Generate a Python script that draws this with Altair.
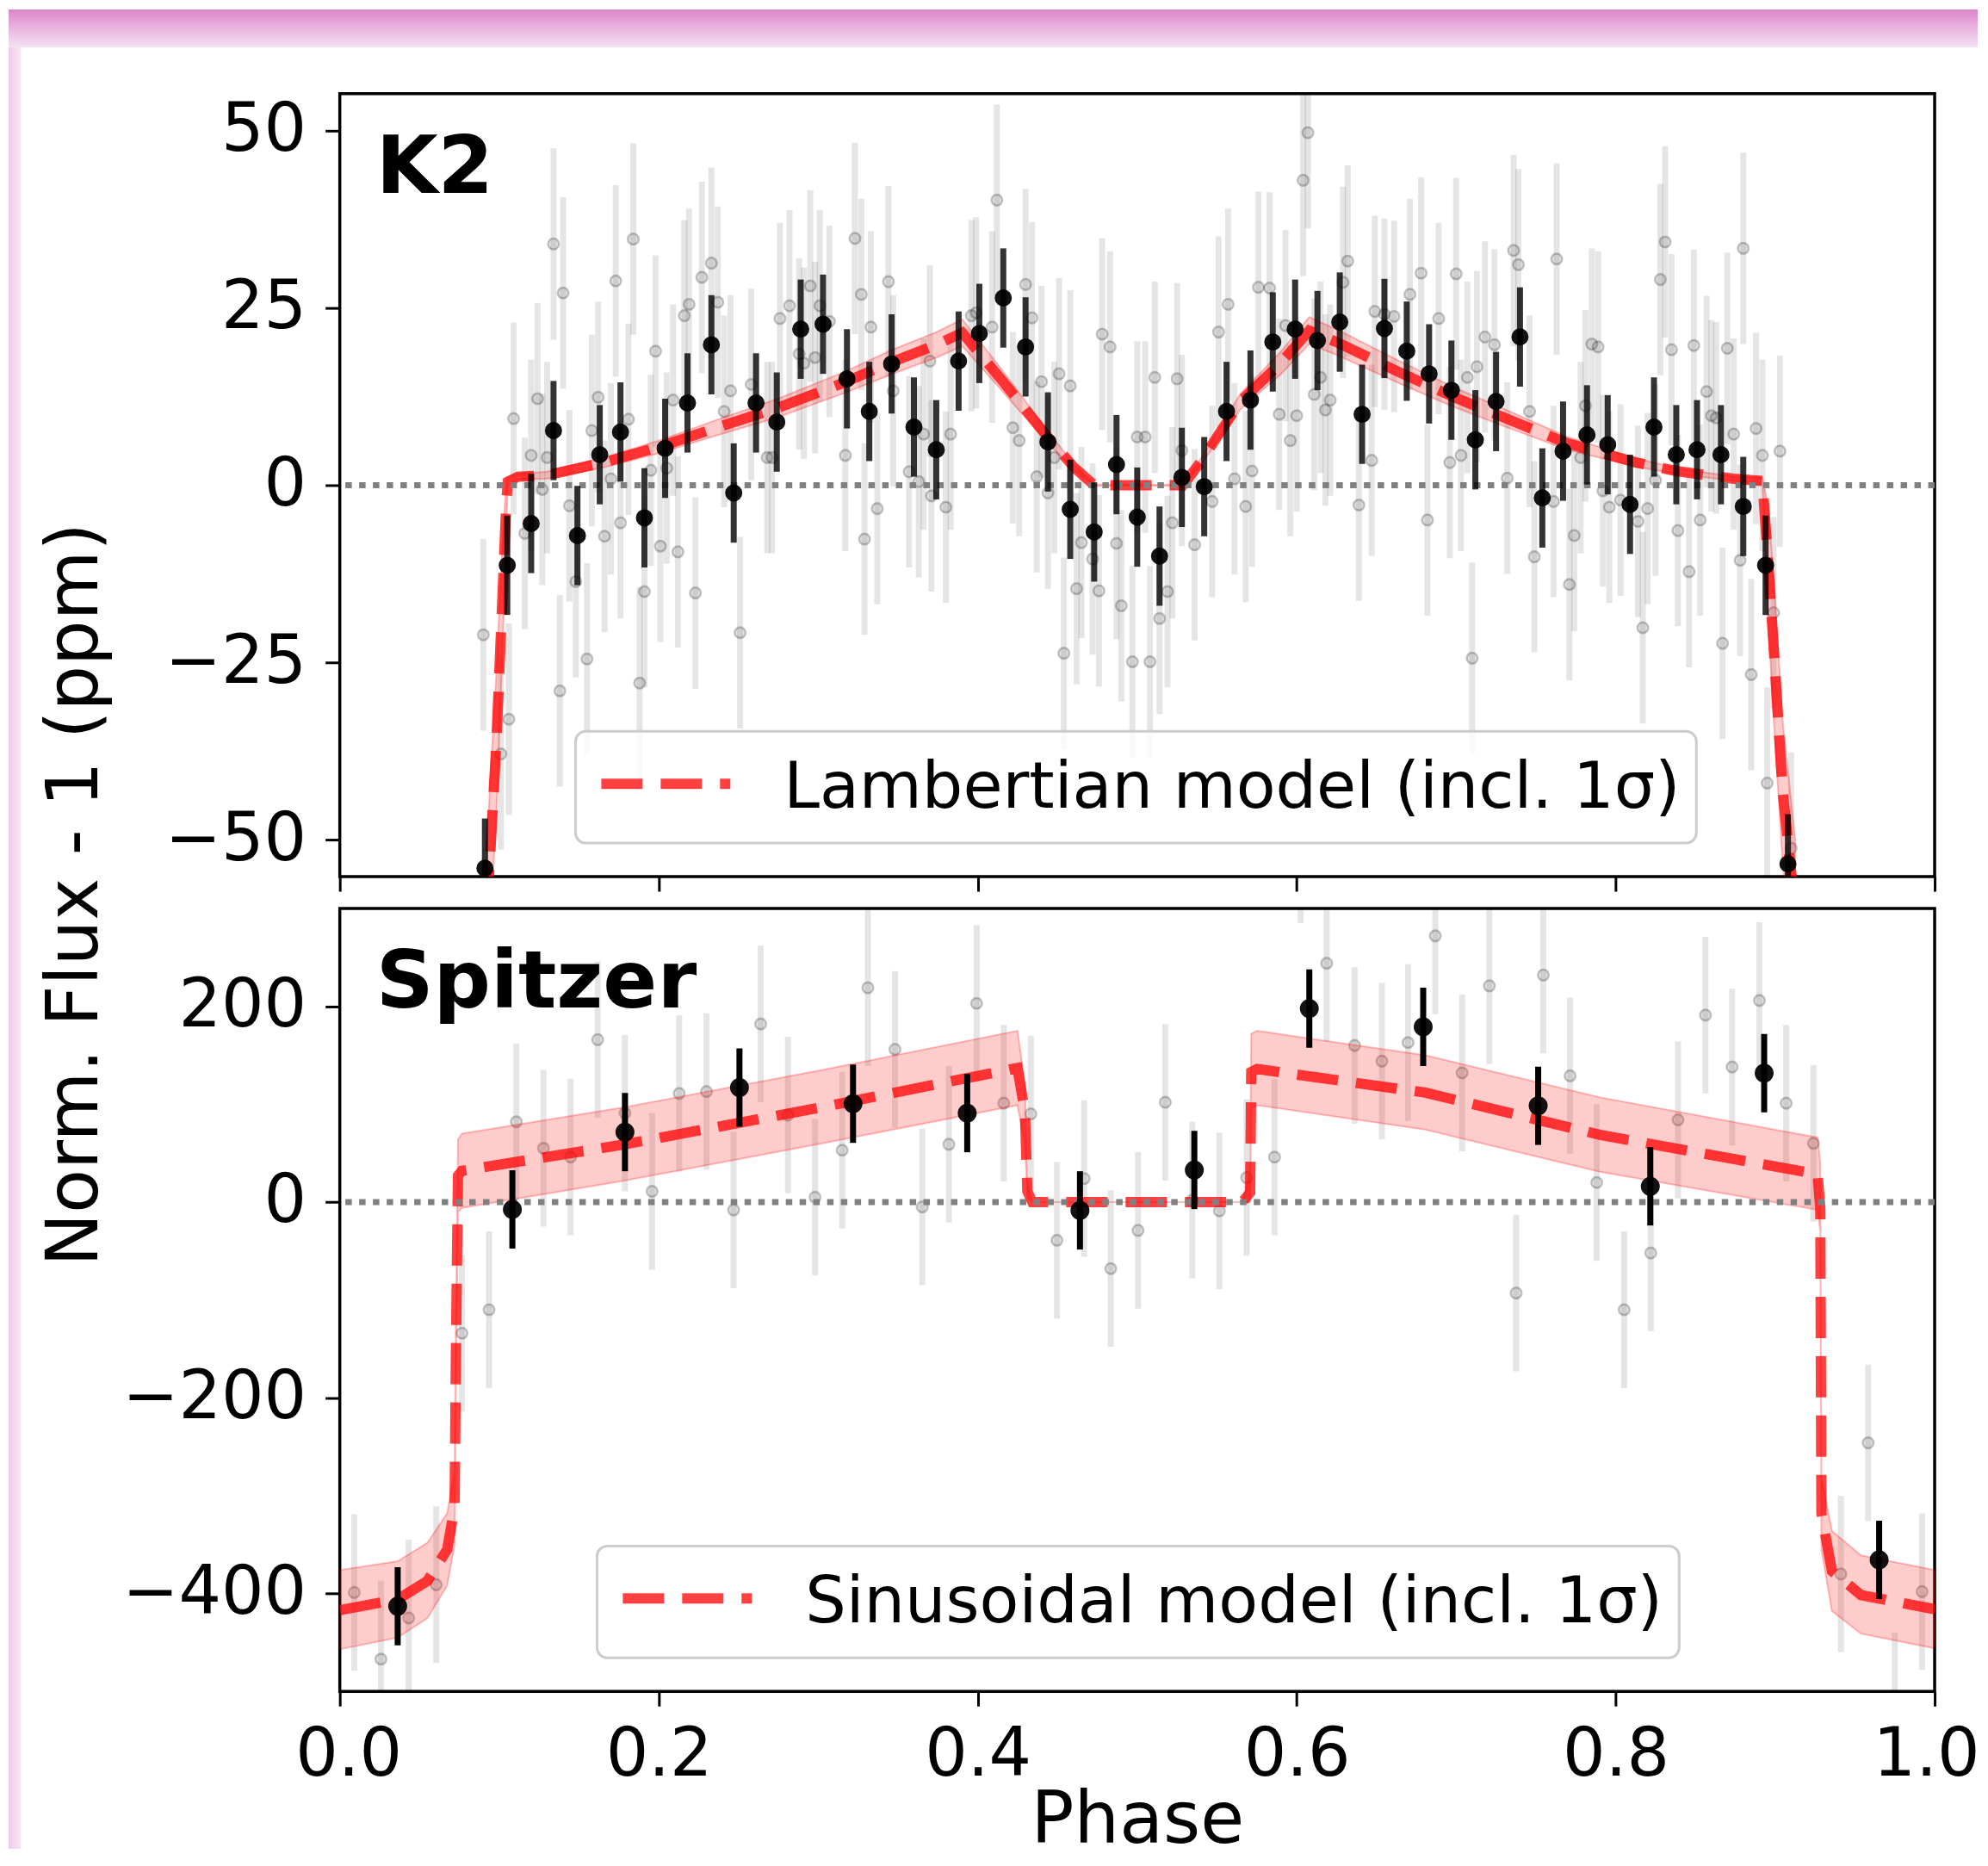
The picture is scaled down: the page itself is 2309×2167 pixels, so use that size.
import altair as alt
import pandas as pd

FONT = "DejaVu Sans"
W, H = 1854, 910
GAP = 37

# ---------------- text ----------------
PANEL_LABELS = ["K2", "Spitzer"]
LEGEND_LABELS = ["Lambertian model (incl. 1σ)", "Sinusoidal model (incl. 1σ)"]
Y_TITLE = ["Norm. Flux - 1 (ppm)"]
X_TITLE = "Phase"

PHASE_TICKS = [0.0, 0.2, 0.4, 0.6, 0.8, 1.0]
K2_TICKS = [-50, -25, 0, 25, 50]
SP_TICKS = [-400, -200, 0, 200]
K2_DOMAIN = [-55.2, 55.2]
SP_DOMAIN = [-500, 300]

# ---------------- K2 unbinned ----------------
K2_RAW_PHASE = [
    0.090, 0.101, 0.106, 0.109, 0.116, 0.120, 0.124, 0.127, 0.130, 0.134, 0.138, 0.140, 0.144, 0.148,
    0.155, 0.158, 0.162, 0.166, 0.170, 0.173, 0.176, 0.181, 0.184, 0.188, 0.191, 0.195, 0.198, 0.201,
    0.205, 0.209, 0.212, 0.216, 0.219, 0.223, 0.227, 0.233, 0.237, 0.241, 0.245, 0.251, 0.258, 0.268,
    0.271, 0.276, 0.282, 0.288, 0.291, 0.295, 0.298, 0.301, 0.307, 0.317, 0.323, 0.327, 0.329, 0.333,
    0.337, 0.344, 0.347, 0.357, 0.363, 0.366, 0.370, 0.371, 0.380, 0.383, 0.396, 0.399, 0.409, 0.412,
    0.422, 0.426, 0.430, 0.434, 0.437, 0.440, 0.444, 0.448, 0.451, 0.454, 0.458, 0.462, 0.465, 0.472,
    0.476, 0.478, 0.483, 0.487, 0.490, 0.497, 0.500, 0.505, 0.508, 0.511, 0.514, 0.519, 0.522, 0.525,
    0.528, 0.536, 0.547, 0.551, 0.557, 0.561, 0.568, 0.572, 0.576, 0.583, 0.589, 0.593, 0.596, 0.600,
    0.604, 0.607, 0.611, 0.615, 0.618, 0.621, 0.629, 0.632, 0.639, 0.647, 0.649, 0.655, 0.661, 0.671,
    0.678, 0.682, 0.689, 0.696, 0.700, 0.703, 0.707, 0.710, 0.713, 0.718, 0.724, 0.732, 0.736, 0.739,
    0.746, 0.749, 0.761, 0.763, 0.771, 0.774, 0.778, 0.781, 0.785, 0.789, 0.792, 0.796, 0.803, 0.814,
    0.817, 0.820, 0.825, 0.828, 0.831, 0.835, 0.839, 0.846, 0.849, 0.853, 0.857, 0.860, 0.863, 0.867,
    0.870, 0.874, 0.878, 0.880, 0.885, 0.888, 0.892, 0.895, 0.899, 0.903, 0.910,
]
K2_RAW_FLUX = [
    -21.1, -37.9, -33.0, 9.4, -6.8, 4.2, 12.2, -0.6, 3.9, 34.0, -29.0, 27.1, -2.9, -13.6,
    -24.5, 7.7, 12.4, -7.2, 0.9, 28.8, -5.3, 9.3, 34.7, -27.9, -15.0, 2.1, 18.9, -8.6,
    2.4, 12.0, -9.4, 23.9, 25.5, -15.2, 29.3, 31.3, 25.8, 10.4, 13.3, -20.8, 14.2, 3.9,
    3.9, 23.5, 25.3, 18.5, 17.2, 28.1, 18.0, 25.3, 23.1, 4.2, 34.8, 26.9, -7.6, 22.3,
    -3.3, 28.7, 13.3, 1.9, 0.5, 7.2, 17.5, -1.5, -3.1, 7.2, 23.9, 24.3, 22.3, 40.2,
    8.1, 6.3, 28.3, 23.6, 1.2, 14.6, -1.1, 3.9, 15.7, -23.7, 14.0, -14.6, -8.1, -10.4,
    -14.9, 21.3, 19.5, -8.2, -17.0, -24.9, 6.8, 6.8, -24.9, 15.2, -18.8, -15.0, -5.3, 15.0,
    4.9, -8.4, -2.3, 21.6, 25.5, 0.9, -3.0, 2.0, 27.9, 27.8, 10.0, 22.5, 6.3, 9.8,
    43.0, 49.7, 12.8, 15.2, 10.6, 12.0, 28.6, 31.6, -2.8, 3.5, 24.5, 24.1, 23.8, 26.9,
    29.9, -4.9, 23.5, 3.2, 29.8, 4.2, 15.2, -24.4, 16.7, 20.9, 19.8, 1.0, 33.1, 31.1,
    10.4, -10.1, -2.3, 31.9, -14.0, -7.1, 3.9, 11.2, 19.9, 19.5, -0.8, -3.1, -2.1, -5.1,
    -20.1, -3.3, 0.7, 29.0, 34.3, 19.1, -6.4, -12.2, 19.7, -4.9, 13.2, 9.8, 9.5, -22.3,
    19.3, 7.2, -10.6, 33.4, -26.7, 8.0, 4.2, -42.0, -18.0, 4.8, -51.2,
]
K2_RAW_ERR = 13.5

# ---------------- K2 binned ----------------
K2_BIN_PHASE = [
    0.091, 0.105, 0.120, 0.134, 0.149, 0.163, 0.176, 0.191, 0.204, 0.218, 0.233, 0.247, 0.261, 0.274,
    0.289, 0.303, 0.318, 0.332, 0.346, 0.360, 0.374, 0.388, 0.401, 0.416, 0.430, 0.444, 0.458, 0.473,
    0.487, 0.500, 0.514, 0.528, 0.542, 0.556, 0.571, 0.585, 0.599, 0.613, 0.627, 0.641, 0.655, 0.669,
    0.683, 0.697, 0.712, 0.725, 0.740, 0.754, 0.767, 0.782, 0.795, 0.809, 0.824, 0.838, 0.851, 0.866,
    0.880, 0.894, 0.908,
]
K2_BIN_FLUX = [
    -54.0, -11.3, -5.4, 7.7, -7.1, 4.3, 7.5, -4.6, 5.2, 11.6, 19.8, -1.1, 11.6, 8.9,
    22.0, 22.7, 15.0, 10.4, 17.1, 8.2, 5.0, 17.5, 21.4, 26.4, 19.5, 6.1, -3.4, -6.6,
    2.9, -4.5, -10.0, 1.1, -0.2, 10.4, 12.0, 20.2, 22.0, 20.4, 23.0, 10.0, 22.1, 18.9,
    15.7, 13.4, 6.4, 11.8, 20.9, -1.8, 4.8, 7.1, 5.7, -2.7, 8.2, 4.3, 5.0, 4.3,
    -3.0, -11.3, -53.4,
]
K2_BIN_ERR = 7.0

# ---------------- K2 Lambertian model ----------------
K2_MODEL_PHASE = [
    0.0923, 0.0937, 0.0981, 0.1018, 0.1045, 0.1054, 0.1117, 0.1297, 0.1656, 0.2016, 0.2375, 0.2735, 0.3166,
    0.3454, 0.3741, 0.3903, 0.4137, 0.4424, 0.4604, 0.4730, 0.5287, 0.5395, 0.5647, 0.5899, 0.6078, 0.6258,
    0.6618, 0.6977, 0.7337, 0.7697, 0.8128, 0.8380, 0.8740, 0.8920, 0.8956, 0.8992, 0.9046, 0.9100, 0.9126,
]
K2_MODEL_FLUX = [
    -60.0, -54.5, -36.7, -16.8, -2.0, 0.5, 1.2, 1.4, 3.2, 5.5, 8.2, 10.8, 14.5,
    17.3, 19.8, 21.5, 15.2, 7.2, 2.5, 0.0, 0.0, 3.2, 11.8, 17.2, 21.8, 20.1,
    16.2, 12.5, 9.2, 5.9, 3.2, 2.0, 0.9, 0.6, -11.0, -23.4, -43.0, -54.5, -60.0,
]
K2_MODEL_HALF = [
    10, 10, 10, 8, 3, 0.6, 0.4, 0.5, 0.7, 0.9, 1.1, 1.3, 1.5,
    1.7, 1.8, 1.9, 1.5, 0.9, 0.4, 0.1, 0.1, 0.4, 1.1, 1.6, 1.9, 1.8,
    1.6, 1.4, 1.2, 0.9, 0.6, 0.4, 0.3, 0.5, 8, 10, 10, 10, 10,
]

# ---------------- Spitzer unbinned ----------------
SP_RAW_PHASE = [
    0.0091, 0.0258, 0.0432, 0.0605, 0.0766, 0.0936, 0.1107, 0.1277, 0.1447, 0.1617, 0.1788, 0.1958,
    0.2128, 0.2299, 0.2469, 0.2639, 0.2810, 0.2980, 0.3150, 0.3311, 0.3481, 0.3652, 0.3819, 0.3993,
    0.4163, 0.4333, 0.4497, 0.4667, 0.4834, 0.5005, 0.5176, 0.5345, 0.5515, 0.5686, 0.5861, 0.6024,
    0.6188, 0.6363, 0.6534, 0.6698, 0.6869, 0.7037, 0.7208, 0.7376, 0.7546, 0.7714, 0.7881, 0.8053,
    0.8220, 0.8391, 0.8563, 0.8730, 0.8901, 0.9069, 0.9240, 0.9412, 0.9583, 0.9750, 0.9921,
]
SP_RAW_FLUX = [
    -399, -467, -425, -391, -134, -110, 82, 55, 46, 166, 91, 11,
    111, 113, -8, 182, 89, 5, 53, 219, 156, -5, 59, 203,
    101, 90, -39, 24, -68, -29, 102, 2, -9, 25, 46, 365,
    244, 160, 144, 163, 272, 132, 221, -93, 232, 129, 20, -110,
    -52, 84, 191, 138, 206, 101, 60, -380, -246, -520, -398,
]
SP_RAW_ERR = 80

# ---------------- Spitzer binned ----------------
SP_BIN_PHASE = [0.0363, 0.1082, 0.1788, 0.2506, 0.3218, 0.3934, 0.4641,
                0.5358, 0.6079, 0.6793, 0.7514, 0.8217, 0.8931, 0.9652]
SP_BIN_FLUX = [-413, -7.5, 71.5, 117, 100.5, 90.9, -8.5,
               32.8, 197.8, 179, 98.4, 16.1, 131.7, -365.6]
SP_BIN_ERR = 40

# ---------------- Spitzer sinusoidal model ----------------
SP_MODEL_PHASE = [0.0, 0.0363, 0.055, 0.0673, 0.0720, 0.0728, 0.0741, 0.0766, 0.1788, 0.3026, 0.4249, 0.4296,
                  0.4311, 0.4342, 0.5660, 0.5708, 0.5715, 0.5751, 0.6807, 0.7900, 0.9266, 0.9283, 0.9290,
                  0.9356, 0.9538, 1.0]
SP_MODEL_FLUX = [-417, -406, -387, -355, -312, -156, 27, 32, 59, 97, 137, 92,
                 11, 0, 0, 9.7, 133, 136, 111.8, 68.8, 28.5, -6.5, -318,
                 -377, -401.6, -416]
SP_MODEL_LO = [-457, -445, -425, -392, -350, -190, -10, -6, 22, 60, 99, 60,
               5, 0, 0, 0, 96, 99, 74, 31, -8, -30, -355,
               -418, -441, -456]
SP_MODEL_HI = [-376, -367, -348, -318, -274, -120, 64, 70, 97, 135, 175, 122,
               20, 0, 0, 30, 172, 175, 150, 107, 66, 40, -282,
               -336, -361, -376]


def xenc(bottom):
    if bottom:
        ax = alt.Axis(values=PHASE_TICKS, format=".1f", title=X_TITLE, titleY=175,
                      titleBaseline="alphabetic", labelFlush=True, labelFlushOffset=52)
    else:
        ax = alt.Axis(values=PHASE_TICKS, labels=False, title=None)
    return alt.X("phase:Q", scale=alt.Scale(domain=[0, 1], nice=False, zero=False), axis=ax)


def yenc(field, domain, ticks):
    return alt.Y(f"{field}:Q", scale=alt.Scale(domain=domain, nice=False, zero=False),
                 axis=alt.Axis(values=ticks, title=None))


def build_panel(raw_phase, raw_flux, raw_err, bin_phase, bin_flux, bin_err,
                m_phase, m_flux, m_lo, m_hi, domain, ticks, label, legend_label,
                legend_x, legend_w, bottom, bin_bar_opacity, bin_size, before=(), after=()):
    X = lambda: xenc(bottom)
    Y = lambda f: yenc(f, domain, ticks)

    raw = pd.DataFrame({"phase": raw_phase, "flux": raw_flux})
    raw["lo"] = raw["flux"] - raw_err
    raw["hi"] = raw["flux"] + raw_err
    binned = pd.DataFrame({"phase": bin_phase, "flux": bin_flux})
    binned["lo"] = binned["flux"] - bin_err
    binned["hi"] = binned["flux"] + bin_err
    model = pd.DataFrame({"phase": m_phase, "flux": m_flux, "lo": m_lo, "hi": m_hi})

    layers = list(before)
    layers.append(alt.Chart(raw).mark_rule(color="black", opacity=0.1, strokeWidth=7, clip=True)
                  .encode(x=X(), y=Y("lo"), y2="hi:Q"))
    layers.append(alt.Chart(raw).mark_circle(fill="black", fillOpacity=0.1, stroke="black",
                                            strokeOpacity=0.22, strokeWidth=2.5, size=160,
                                            opacity=1, clip=True)
                  .encode(x=X(), y=Y("flux")))
    layers.append(alt.Chart(model).mark_area(fill="red", fillOpacity=0.2, stroke="red",
                                            strokeOpacity=0.25, strokeWidth=2, clip=True)
                  .encode(x=X(), y=Y("lo"), y2="hi:Q"))
    layers.append(alt.Chart(model).mark_line(color="red", opacity=0.75, strokeWidth=12,
                                            strokeDash=[48, 21], clip=True)
                  .encode(x=X(), y=Y("flux")))
    layers.append(alt.Chart(pd.DataFrame({"flux": [0]}))
                  .mark_rule(color="#808080", strokeWidth=7, strokeDash=[7.5, 8.5])
                  .encode(y=Y("flux")))
    layers.append(alt.Chart(binned).mark_rule(color="black", opacity=bin_bar_opacity,
                                             strokeWidth=7, clip=True)
                  .encode(x=X(), y=Y("lo"), y2="hi:Q"))
    layers.append(alt.Chart(binned).mark_circle(fill="black", opacity=0.92, stroke="black",
                                               strokeWidth=1.5, size=bin_size, clip=True)
                  .encode(x=X(), y=Y("flux")))

    # legend (box, dashed sample, label)
    leg = pd.DataFrame({"label": [legend_label]})
    layers.append(alt.Chart(leg).mark_rect(fill="white", fillOpacity=0.8, stroke="#cccccc",
                                          strokeWidth=3, cornerRadius=12)
                  .encode(x=alt.value(legend_x), x2=alt.value(legend_x + legend_w),
                          y=alt.value(741), y2=alt.value(871)))
    layers.append(alt.Chart(leg).mark_rule(color="red", opacity=0.75, strokeWidth=12,
                                          strokeDash=[48, 21])
                  .encode(x=alt.value(legend_x + 30), x2=alt.value(legend_x + 180),
                          y=alt.value(802)))
    layers.append(alt.Chart(leg).mark_text(align="left", baseline="alphabetic", font=FONT,
                                          fontSize=75, color="black")
                  .encode(x=alt.value(legend_x + 242), y=alt.value(830), text="label:N"))
    # panel label
    layers.append(alt.Chart(pd.DataFrame({"label": [label]}))
                  .mark_text(align="left", baseline="alphabetic", font=FONT, fontSize=93,
                             fontWeight="bold", color="black")
                  .encode(x=alt.value(42), y=alt.value(115), text="label:N"))
    layers += list(after)
    return alt.layer(*layers).properties(width=W, height=H)


# page frame decoration (pink border of the screenshot)
top_band = alt.Chart(pd.DataFrame({"k": [0]})).mark_rect(
    color={"gradient": "linear", "x1": 0, "y1": 0, "x2": 0, "y2": 1,
           "stops": [{"offset": 0, "color": "#dc85cb"},
                     {"offset": 0.45, "color": "#e8b0de"},
                     {"offset": 1, "color": "#f5e2f2"}]}
).encode(x=alt.value(-385), x2=alt.value(1904), y=alt.value(-98), y2=alt.value(-54))
left_band = alt.Chart(pd.DataFrame({"k": [0]})).mark_rect(
    color={"gradient": "linear", "x1": 0, "y1": 0, "x2": 1, "y2": 0,
           "stops": [{"offset": 0, "color": "#efcbe9"},
                     {"offset": 1, "color": "#f6e5f4"}]}
).encode(x=alt.value(-385), x2=alt.value(-371), y=alt.value(-54), y2=alt.value(2040))

y_title = alt.Chart(pd.DataFrame({"t": Y_TITLE})).mark_text(
    angle=270, align="center", baseline="alphabetic", font=FONT, fontSize=83, color="black"
).encode(x=alt.value(-282), y=alt.value(931), text="t:N")

top = build_panel(K2_RAW_PHASE, K2_RAW_FLUX, K2_RAW_ERR, K2_BIN_PHASE, K2_BIN_FLUX, K2_BIN_ERR,
                  K2_MODEL_PHASE, K2_MODEL_FLUX,
                  [m - h for m, h in zip(K2_MODEL_FLUX, K2_MODEL_HALF)],
                  [m + h for m, h in zip(K2_MODEL_FLUX, K2_MODEL_HALF)],
                  K2_DOMAIN, K2_TICKS, PANEL_LABELS[0], LEGEND_LABELS[0],
                  legend_x=274, legend_w=1303, bottom=False, bin_bar_opacity=0.8, bin_size=340,
                  before=[top_band, left_band], after=[y_title])

bottom = build_panel(SP_RAW_PHASE, SP_RAW_FLUX, SP_RAW_ERR, SP_BIN_PHASE, SP_BIN_FLUX, SP_BIN_ERR,
                     SP_MODEL_PHASE, SP_MODEL_FLUX, SP_MODEL_LO, SP_MODEL_HI,
                     SP_DOMAIN, SP_TICKS, PANEL_LABELS[1], LEGEND_LABELS[1],
                     legend_x=299, legend_w=1258, bottom=True, bin_bar_opacity=1.0, bin_size=420)

chart = (
    alt.vconcat(top, bottom, spacing=GAP, bounds="flush")
    .resolve_scale(x="independent", y="independent")
    .properties(padding=0)
    .configure(font=FONT)
    .configure_axis(labelFont=FONT, labelFontSize=78, labelColor="black", titleFont=FONT,
                    titleFontSize=83, titleFontWeight="normal", titleColor="black",
                    tickColor="black", tickWidth=3, tickSize=17, domain=False, grid=False,
                    labelLimit=500)
    .configure_axisX(labelPadding=18)
    .configure_axisY(labelPadding=22)
    .configure_view(stroke="black", strokeWidth=3.5)
)

chart.save("out.html", embed_options={"renderer": "svg", "actions": False})
